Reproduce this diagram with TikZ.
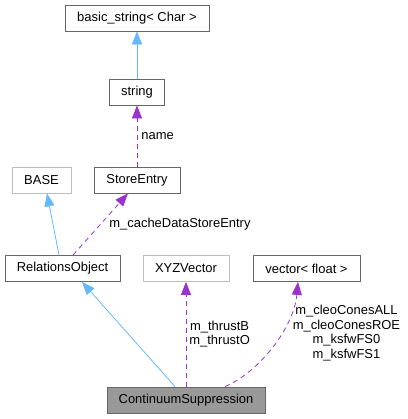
\documentclass[tikz,border=0pt]{standalone}
\usepackage{fontspec}
\setmainfont{Liberation Sans}
\usetikzlibrary{arrows.meta}
\definecolor{edgeblue}{HTML}{63B8FF}
\definecolor{edgepurple}{HTML}{9A32CD}
\definecolor{boxgray}{HTML}{666666}
\definecolor{boxlight}{HTML}{BFBFBF}
\definecolor{boxfill}{HTML}{999999}
\tikzset{
  cls/.style={draw=boxgray, line width=0.8bp, minimum height=26bp, inner sep=0pt,
    font=\fontsize{13}{14.5}\selectfont},
  ext/.style={cls, draw=boxlight},
  inh/.style={draw=edgeblue, line width=0.8bp, -{Triangle[length=13bp,width=10bp]}},
  use/.style={draw=edgepurple, line width=0.8bp, dash pattern=on 5bp off 4bp,
    -{Triangle[length=13bp,width=10bp]}},
  lbl/.style={font=\fontsize{13}{14.5}\selectfont, inner sep=0pt, align=center}
}
\begin{document}
\begin{tikzpicture}[x=1bp,y=-1bp]
        \useasboundingbox (0,0) rectangle (408,419);

        % Các lớp
        \node[cls, minimum width=144bp] (basic) at (137,18) {basic\_string< Char >};
        \node[cls, minimum width=55bp] (str) at (137,92) {string};
        \node[ext, minimum width=59bp] (base) at (41.5,180) {BASE};
        \node[cls, minimum width=86bp] (se) at (137,180) {StoreEntry};
        \node[cls, minimum width=115bp] (rel) at (62.5,268.5) {RelationsObject};
        \node[ext, minimum width=86bp] (xyz) at (186,268.5) {XYZVector};
        \node[cls, minimum width=107bp] (vec) at (306.5,268.5) {vector< float >};
        \node[cls, fill=boxfill, minimum width=158bp] (cs) at (186,400) {ContinuumSuppression};

        % Kế thừa
        \draw[inh] (str) -- (basic);
        \draw[inh] ([xshift=-3.5bp]rel.north) -- ([xshift=5.5bp]base.south);
        \draw[inh] ([xshift=-11bp]cs.north) -- ([xshift=19.5bp]rel.south);

        % Thành viên
        \draw[use] (se) -- node[lbl, right=4bp] {name} (str);
        \draw[use] ([xshift=10.5bp]rel.north) --
            node[lbl, anchor=west, xshift=8.5bp] {m\_cacheDataStoreEntry} ([xshift=-9bp]se.south);
        \draw[use] (cs) -- node[lbl, right=3bp] {m\_thrustB\\m\_thrustO} (xyz);
        \draw[use] ([xshift=39bp]cs.north) .. controls +(35,-15) and +(-4,45) .. ([xshift=-8.5bp]vec.south);
        \node[lbl] (cones) at (346.5,333) {m\_cleoConesALL\\m\_cleoConesROE\\m\_ksfwFS0\\m\_ksfwFS1};
    \end{tikzpicture}
\end{document}
